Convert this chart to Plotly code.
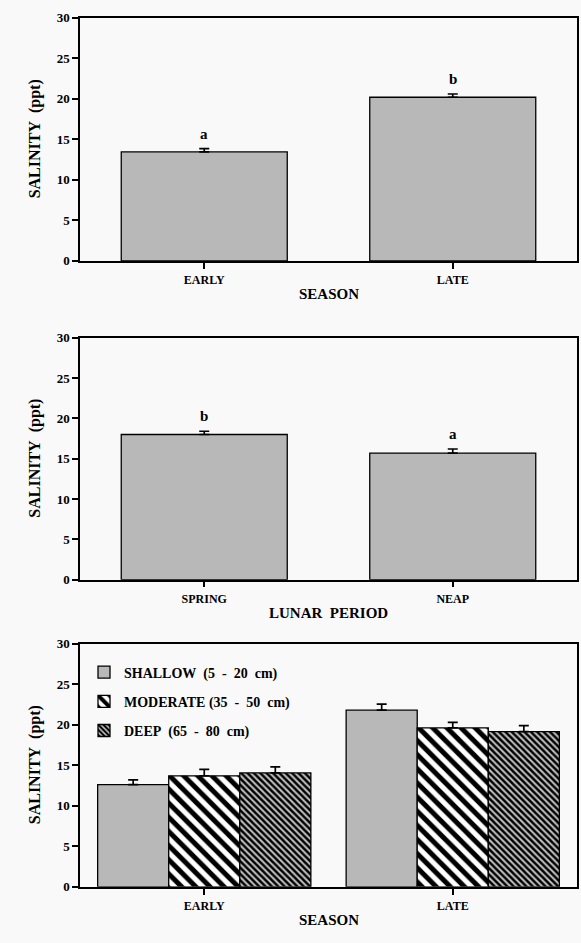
import plotly.graph_objects as go
from plotly.subplots import make_subplots

# ---------------- data ----------------
season_cats = ["EARLY", "LATE"]
season_means = [13.45, 20.2]
season_err = [0.4, 0.4]
season_letters = ["a", "b"]

lunar_cats = ["SPRING", "NEAP"]
lunar_means = [18.0, 15.7]
lunar_err = [0.4, 0.5]
lunar_letters = ["b", "a"]

depth_cats = ["EARLY", "LATE"]
depth_names = ["SHALLOW\u00a0\u00a0(5\u00a0\u00a0-\u00a0\u00a020\u00a0\u00a0cm)",
               "MODERATE\u00a0(35\u00a0\u00a0-\u00a0\u00a050\u00a0\u00a0cm)",
               "DEEP\u00a0\u00a0(65\u00a0\u00a0-\u00a0\u00a080\u00a0\u00a0cm)"]
shallow_means = [12.6, 21.8]
shallow_err = [0.6, 0.75]
moderate_means = [13.7, 19.6]
moderate_err = [0.8, 0.7]
deep_means = [14.05, 19.15]
deep_err = [0.75, 0.75]

y_title = "SALINITY\u00a0\u00a0(ppt)"
x_titles = ["SEASON", "LUNAR\u00a0\u00a0PERIOD", "SEASON"]

# ---------------- style ----------------
FONT = "Liberation Serif"
GRAY = "#b8b8b8"
BG = "#f9f9f9"
W, H = 581, 943
X0, X1 = 80, 577
panels_px = [(11, 258), (336, 582), (647, 894)]

fig = make_subplots(rows=3, cols=1)

err_style = dict(type="data", symmetric=False, color="black", thickness=1.7, width=5)
outline = dict(color="black", width=1.3)

# top panel
fig.add_trace(go.Bar(x=season_cats, y=season_means, marker=dict(color=GRAY, line=outline),
                     error_y=dict(array=season_err, arrayminus=[0, 0], **err_style), showlegend=False), row=1, col=1)
# middle panel
fig.add_trace(go.Bar(x=lunar_cats, y=lunar_means, marker=dict(color=GRAY, line=outline),
                     error_y=dict(array=lunar_err, arrayminus=[0, 0], **err_style), showlegend=False), row=2, col=1)

# bottom panel
bottom = [
    (shallow_means, shallow_err, dict(color=GRAY, line=outline)),
    (moderate_means, moderate_err, dict(color="white", line=outline,
                                        pattern=dict(shape="\\", fgcolor="black", bgcolor="white",
                                                     size=10, solidity=0.5, fillmode="replace",
                                                     fgopacity=1))),
    (deep_means, deep_err, dict(color="#c8c8c8", line=outline,
                                pattern=dict(shape="\\", fgcolor="black", bgcolor="#c4c4c4",
                                             size=4.5, solidity=0.55, fillmode="replace",
                                             fgopacity=1))),
]
for i, (m, e, mk) in enumerate(bottom):
    fig.add_trace(go.Bar(x=depth_cats, y=m, name=depth_names[i], marker=mk, legendgroup=f"g{i}",
                         error_y=dict(array=e, arrayminus=[0, 0], **err_style)), row=3, col=1)

fig.update_layout(barmode="group")

axis_common = dict(showline=True, linecolor="black", linewidth=1.5, mirror=True, ticks="outside",
                   ticklen=6, tickwidth=1.5, tickcolor="black", showgrid=False, zeroline=False)

for r, (t, b) in enumerate(panels_px, start=1):
    xa = "xaxis" if r == 1 else f"xaxis{r}"
    ya = "yaxis" if r == 1 else f"yaxis{r}"
    fig.layout[xa].update(domain=[X0 / W, X1 / W], range=[-0.5, 1.5], ticklabelstandoff=1,
                          tickfont=dict(family=FONT, size=12, color="black", weight="bold"), **axis_common)
    fig.layout[ya].update(domain=[1 - b / H, 1 - t / H], range=[0, 30], dtick=5,
                          tickfont=dict(family=FONT, size=13, color="black", weight="bold"), **axis_common)

fig.data[0].update(width=0.668)
fig.data[1].update(width=0.668)
for tr in fig.data[2:]:
    tr.update(width=0.286)
fig.data[2].update(offset=-0.429)
fig.data[3].update(offset=-0.143)
fig.data[4].update(offset=0.143)

annotations = []
for cats, means, errs, letters, xr, yr in [
    (season_cats, season_means, season_err, season_letters, "x", "y"),
    (lunar_cats, lunar_means, lunar_err, lunar_letters, "x2", "y2"),
]:
    for c, m, e, l in zip(cats, means, errs, letters):
        annotations.append(dict(x=c, y=m + e, xref=xr, yref=yr, text=l, showarrow=False,
                                yanchor="bottom", yshift=5,
                                font=dict(family=FONT, size=15, color="black", weight="bold")))

xc = (X0 + X1) / 2 / W
for r, (t, b) in enumerate(panels_px):
    annotations.append(dict(x=xc, y=1 - (b + 34) / H, xref="paper", yref="paper", text=x_titles[r],
                            showarrow=False, xanchor="center", yanchor="middle",
                            font=dict(family=FONT, size=15, color="black", weight="bold")))
    annotations.append(dict(x=35 / W, y=1 - (t + b) / 2 / H, xref="paper", yref="paper", text=y_title,
                            showarrow=False, xanchor="center", yanchor="middle", textangle=-90,
                            font=dict(family=FONT, size=16, color="black", weight="bold")))

fig.update_layout(
    width=W, height=H, margin=dict(l=0, r=0, t=0, b=0),
    paper_bgcolor=BG, plot_bgcolor=BG,
    annotations=annotations,
    showlegend=True,
    legend=dict(x=84 / W, y=1 - 660 / H, xanchor="left", yanchor="top", bgcolor="rgba(0,0,0,0)",
                tracegroupgap=8, traceorder="grouped",
                font=dict(family=FONT, size=14, color="black", weight="bold")),
)

fig.write_html("out.html")
